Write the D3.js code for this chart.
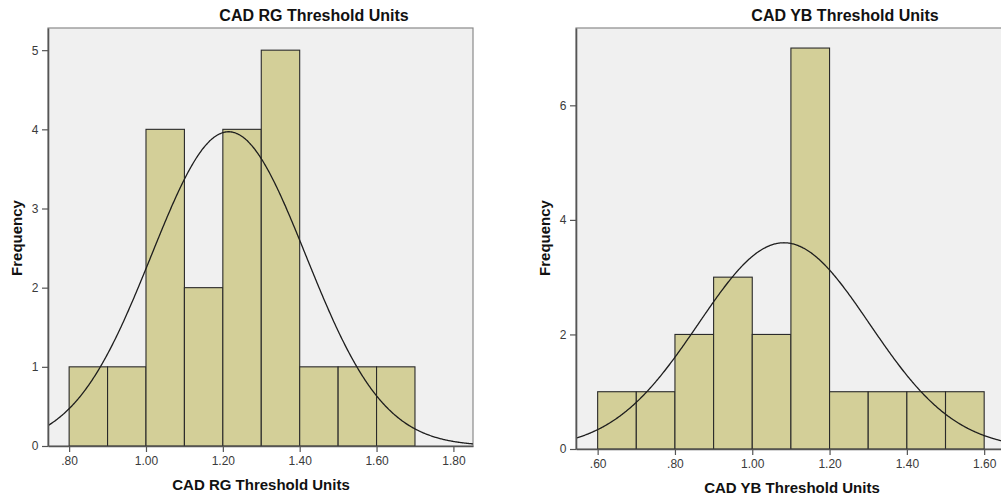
<!DOCTYPE html>
<html>
<head>
<meta charset="utf-8">
<script src="https://cdn.jsdelivr.net/npm/d3@7"></script>
<style>
  body { margin: 0; background: #fff; }
  svg { display: block; font-family: "Liberation Sans", Arial, sans-serif; }
</style>
</head>
<body>
<svg id="chart" width="1001" height="499"></svg>
<script>
// bin lower edges and counts
const rgBins = [0.8, 0.9, 1.0, 1.1, 1.2, 1.3, 1.4, 1.5, 1.6];
const rgCounts = [1, 1, 4, 2, 4, 5, 1, 1, 1];
const rgXTicks = [0.8, 1.0, 1.2, 1.4, 1.6, 1.8];
const rgYTicks = [0, 1, 2, 3, 4, 5];
const rgFit = { mean: 1.215, sd: 0.201, n: 20 };

const ybBins = [0.6, 0.7, 0.8, 0.9, 1.0, 1.1, 1.2, 1.3, 1.4, 1.5];
const ybCounts = [1, 1, 2, 3, 2, 7, 1, 1, 1, 1];
const ybXTicks = [0.6, 0.8, 1.0, 1.2, 1.4, 1.6];
const ybYTicks = [0, 2, 4, 6];
const ybFit = { mean: 1.082, sd: 0.2216, n: 20 };

const binWidth = 0.1;
const svg = d3.select("#chart");

// SPSS style tick labels: ".80", "1.00"
const fmt = v => d3.format(".2f")(v).replace(/^0\./, ".");

function histogram(opt) {
    const g = svg.append("g");
    const x = d3.scaleLinear().domain(opt.xDomain).range([opt.left, opt.right]);
    const y = d3.scaleLinear().domain(opt.yDomain).range([opt.bottom, opt.top]);

    const clipId = "clip" + opt.id;
    g.append("clipPath").attr("id", clipId)
        .append("rect")
        .attr("x", opt.left).attr("y", opt.top)
        .attr("width", opt.right - opt.left).attr("height", opt.bottom - opt.top);

    // plot background + frame
    g.append("rect")
        .attr("x", opt.left).attr("y", opt.top)
        .attr("width", opt.right - opt.left).attr("height", opt.bottom - opt.top)
        .attr("fill", "#f0f0f0")
        .attr("stroke", "#8a8a8a")
        .attr("stroke-width", 1.2);

    let data = opt.bins.map((b, i) => ({ x0: b, x1: b + binWidth, count: opt.counts[i] }));

    g.append("g").attr("clip-path", `url(#${clipId})`)
        .selectAll("rect.bar")
        .data(data)
        .join("rect")
        .attr("class", "bar")
        .attr("x", d => x(d.x0))
        .attr("y", d => y(d.count))
        .attr("width", d => x(d.x1) - x(d.x0))
        .attr("height", d => y(0) - y(d.count))
        .attr("fill", "#d3cf98")
        .attr("stroke", "#2a2a2a")
        .attr("stroke-width", 1.1);

    // fitted normal curve
    const scale = opt.fit.n * binWidth / (opt.fit.sd * Math.sqrt(2 * Math.PI));
    const xs = d3.range(opt.xDomain[0], opt.xDomain[1] + 0.002, 0.002);
    const line = d3.line()
        .x(v => x(v))
        .y(v => y(scale * Math.exp(-0.5 * Math.pow((v - opt.fit.mean) / opt.fit.sd, 2))))
        .curve(d3.curveBasis);
    g.append("path")
        .attr("clip-path", `url(#${clipId})`)
        .datum(xs)
        .attr("d", line)
        .attr("fill", "none")
        .attr("stroke", "#1e1e1e")
        .attr("stroke-width", 1.3);

    // axes
    const xAxis = g.append("g")
        .attr("transform", `translate(0,${opt.bottom})`)
        .call(d3.axisBottom(x).tickValues(opt.xTicks).tickFormat(fmt).tickSize(6).tickSizeOuter(0));
    const yAxis = g.append("g")
        .attr("transform", `translate(${opt.left},0)`)
        .call(d3.axisLeft(y).tickValues(opt.yTicks).tickFormat(d3.format("d")).tickSize(6).tickSizeOuter(0));

    [xAxis, yAxis].forEach(a => {
        a.select(".domain").attr("stroke", "#555").attr("stroke-width", 1.6);
        a.selectAll(".tick line").attr("stroke", "#555").attr("stroke-width", 1.2);
        a.selectAll(".tick text").attr("fill", "#3a3a3a").attr("font-size", 12)
            .attr("font-family", "'Liberation Sans', Arial, sans-serif");
    });
    xAxis.selectAll(".tick text").attr("dy", "0.85em");
    yAxis.selectAll(".tick text").attr("dx", "-0.05em");

    // titles
    g.append("text")
        .attr("x", opt.titleX).attr("y", 21)
        .attr("text-anchor", "middle")
        .attr("font-size", 16).attr("font-weight", "bold")
        .attr("fill", "#111")
        .text(opt.title);

    g.append("text")
        .attr("x", opt.xLabelX).attr("y", opt.xLabelY)
        .attr("text-anchor", "middle")
        .attr("font-size", 15).attr("font-weight", "bold")
        .attr("fill", "#111")
        .text(opt.title);

    g.append("text")
        .attr("transform", `translate(${opt.yLabelX},238) rotate(-90)`)
        .attr("text-anchor", "middle")
        .attr("font-size", 15).attr("font-weight", "bold")
        .attr("fill", "#111")
        .text("Frequency");
}

histogram({
    id: "rg", title: "CAD RG Threshold Units",
    bins: rgBins, counts: rgCounts, fit: rgFit,
    xTicks: rgXTicks, yTicks: rgYTicks,
    xDomain: [0.745, 1.851], yDomain: [0, 5.28],
    left: 48, right: 473, top: 28, bottom: 446,
    titleX: 314, xLabelX: 261, xLabelY: 490, yLabelX: 22
});

histogram({
    id: "yb", title: "CAD YB Threshold Units",
    bins: ybBins, counts: ybCounts, fit: ybFit,
    xTicks: ybXTicks, yTicks: ybYTicks,
    xDomain: [0.544, 1.672], yDomain: [0, 7.35],
    left: 576, right: 1012, top: 28, bottom: 449,
    titleX: 845, xLabelX: 792, xLabelY: 493, yLabelX: 550
});
</script>
</body>
</html>
